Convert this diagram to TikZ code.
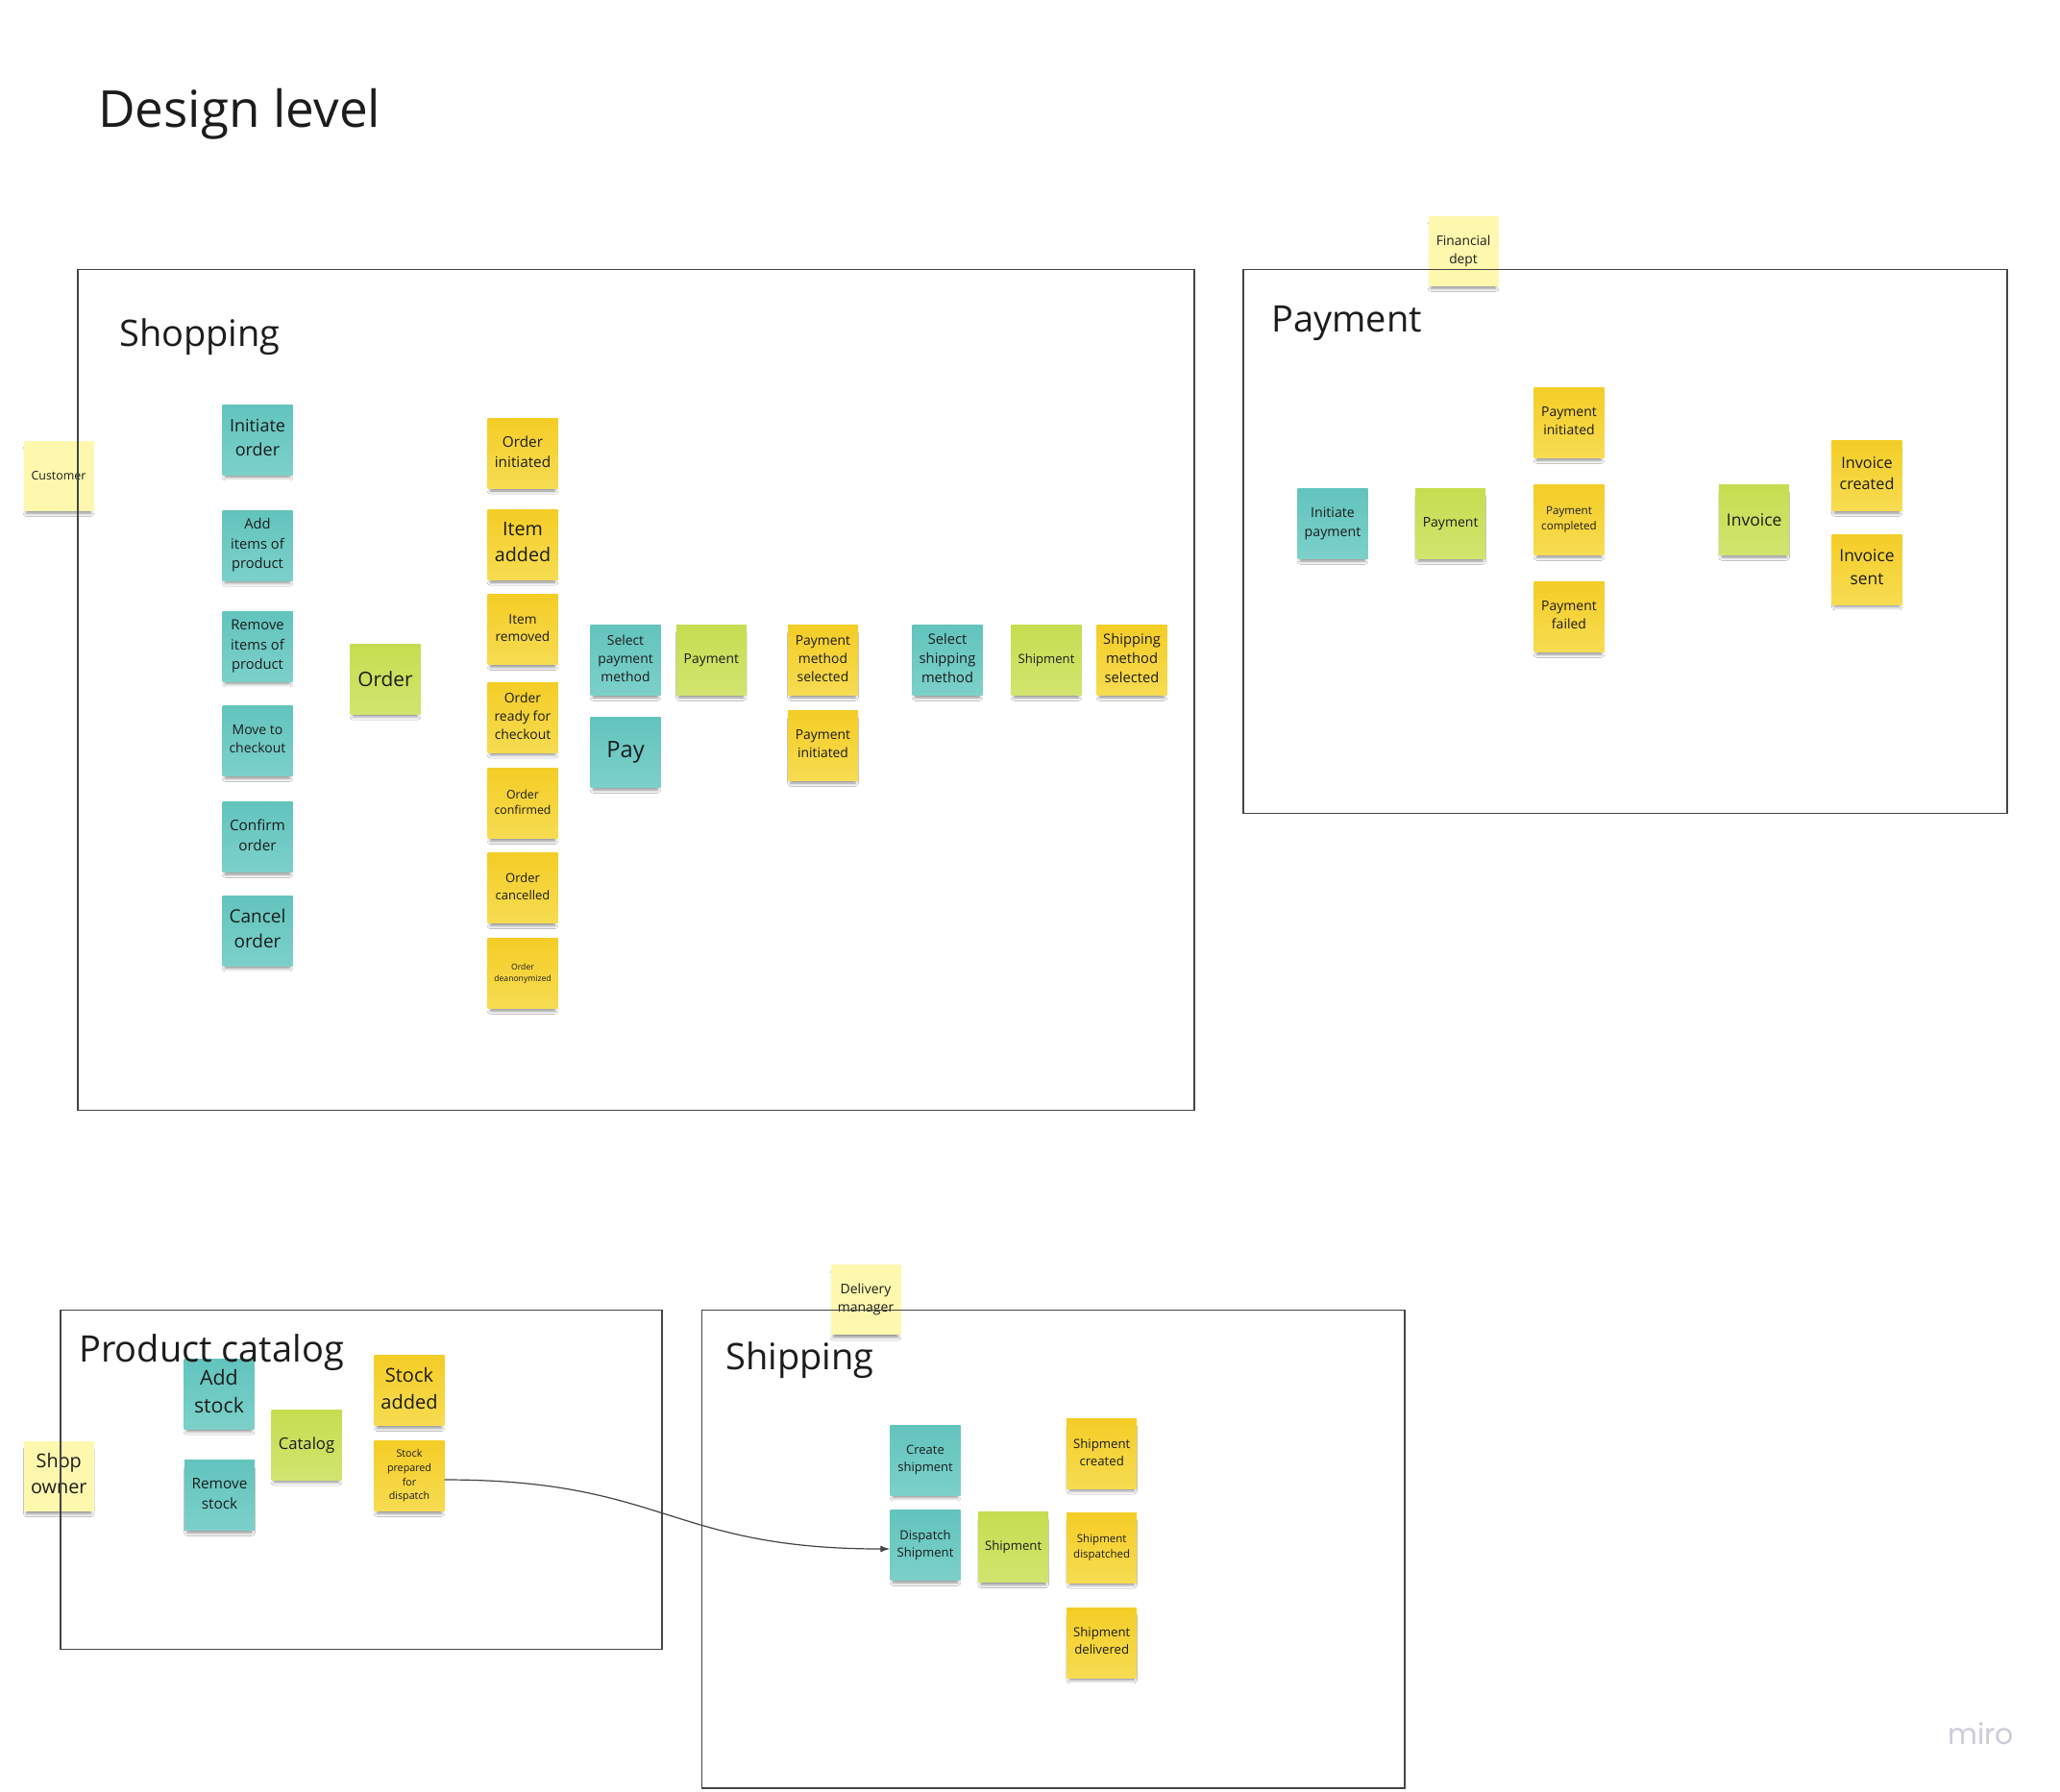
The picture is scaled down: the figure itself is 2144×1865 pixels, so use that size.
\documentclass[tikz,border=0pt]{standalone}
\usepackage{fontspec}
\setmainfont{Open Sans}
\newfontfamily\mirofont{Poppins}
\usetikzlibrary{arrows.meta,shadows.blur}
\definecolor{ink}{HTML}{1C1C1C}
\definecolor{framec}{HTML}{444444}
\definecolor{tealT}{HTML}{62C4BD}
\definecolor{tealB}{HTML}{7CD0CA}
\definecolor{yelT}{HTML}{F4CD26}
\definecolor{yelB}{HTML}{F7DC52}
\definecolor{grnT}{HTML}{C6DD50}
\definecolor{grnB}{HTML}{D2E46F}
\definecolor{paleY}{HTML}{FEF8AF}
\definecolor{miroC}{HTML}{CBCBDA}
\tikzset{
  note/.style={minimum width=73pt, minimum height=73pt, inner sep=0pt, align=center, text=ink,
    blur shadow={shadow xshift=0pt, shadow yshift=-6pt, shadow scale=0.92, shadow blur radius=3.5pt, shadow opacity=45}},
  cmd/.style={note, top color=tealT, bottom color=tealB},
  evt/.style={note, top color=yelT, bottom color=yelB},
  agg/.style={note, top color=grnT, bottom color=grnB},
  actor/.style={note, fill=paleY},
  ml/.style={execute at end node={\rule[-0.25em]{0pt}{0pt}}},
  fs/.style 2 args={font=\fontsize{#1}{#2}\selectfont},
  frame/.style={draw=framec, line width=1.6pt},
  title/.style={anchor=base west, inner sep=0pt, text=ink},
  arr/.style={draw=framec, line width=1.2pt, -{Latex[length=10pt,width=7pt]}}
}
\begin{document}
\begin{tikzpicture}[x=1pt,y=-1pt]
\useasboundingbox (0,0) rectangle (2144,1865);
\fill[white] (0,0) rectangle (2144,1865);

% ---------- Shopping ----------
\node[actor, fs={12.4}{17}] (customer) at (61,495) {Customer};
\node[cmd, ml, fs={18}{25}] (io) at (268,457.6) {Initiate\\order};
\node[cmd, ml, fs={14.7}{20.5}] (aip) at (268,567.7) {Add\\items of\\product};
\node[cmd, ml, fs={14.7}{20.5}] (rip) at (268,672.6) {Remove\\items of\\product};
\node[cmd, ml, fs={14}{19}] (mtc) at (268,771) {Move to\\checkout};
\node[cmd, ml, fs={15.3}{21}] (co) at (268,871) {Confirm\\order};
\node[cmd, ml, fs={19}{26}] (cao) at (268,968.6) {Cancel\\order};
\node[agg, fs={20.8}{28}] (order) at (401,706.8) {Order};

\node[evt, ml, fs={15.3}{21}] (oi) at (544,471.9) {Order\\initiated};
\node[evt, ml, fs={19.7}{27}] (ia) at (544,566.9) {Item\\added};
\node[evt, ml, fs={13.7}{18.6}] (ir) at (544,655.3) {Item\\removed};
\node[evt, ml, fs={13.9}{19}] (orc) at (544,746.8) {Order\\ready for\\checkout};
\node[evt, ml, fs={12.3}{16.7}] (oc) at (544,836.3) {Order\\confirmed};
\node[evt, ml, fs={13}{17.7}] (ocn) at (544,924.3) {Order\\cancelled};
\node[evt, fs={8.6}{11.7}] (od) at (544,1013) {Order\\deanonymized};

\node[cmd, ml, fs={13.9}{19}] (spm) at (651,687) {Select\\payment\\method};
\node[cmd, fs={23.7}{32}] (pay) at (651,783) {Pay};
\node[agg, fs={13.9}{19}] (pmt1) at (740.3,687) {Payment};
\node[evt, ml, fs={13.9}{19}] (pms) at (856.5,687) {Payment\\method\\selected};
\node[evt, ml, fs={13.9}{19}] (pi1) at (856.5,776) {Payment\\initiated};
\node[cmd, ml, fs={14.7}{20}] (ssm) at (986,687) {Select\\shipping\\method};
\node[agg, fs={13.1}{18}] (shp1) at (1089,687) {Shipment};
\node[evt, ml, fs={14.7}{20}] (sms) at (1178,687) {Shipping\\method\\selected};

% ---------- Payment ----------
\node[actor, ml, fs={13.8}{19}] (fin) at (1523,261) {Financial\\dept};
\node[cmd, fs={14.2}{19.5}] (ip) at (1387,545) {Initiate\\payment};
\node[agg, fs={14}{19}] (pmt2) at (1509.6,545) {Payment};
\node[evt, ml, fs={14}{19}] (pi2) at (1633,440) {Payment\\initiated};
\node[evt, fs={11.6}{15.8}] (pc) at (1633,541) {Payment\\completed};
\node[evt, ml, fs={14}{19}] (pf) at (1633,642) {Payment\\failed};
\node[agg, fs={17.5}{24}] (inv) at (1825.7,541) {Invoice};
\node[evt, ml, fs={16.2}{22}] (ic) at (1943,495) {Invoice\\created};
\node[evt, ml, fs={17.4}{23.5}] (is) at (1943,592.5) {Invoice\\sent};

% ---------- Product catalog ----------
\node[actor, ml, fs={19.8}{27}] (owner) at (61.3,1536.3) {Shop\\owner};
\node[cmd, ml, fs={21.3}{29}] (as) at (228,1450.8) {Add\\stock};
\node[cmd, ml, fs={15.4}{21}] (rs) at (228.5,1556) {Remove\\stock};
\node[agg, fs={16.7}{23}] (cat) at (319,1503.7) {Catalog};
\node[evt, ml, fs={20}{27.5}] (sa) at (426,1447.3) {Stock\\added};
\node[evt, fs={10.7}{14.6}] (spd) at (426,1536) {Stock\\prepared\\for\\dispatch};

% ---------- Shipping ----------
\node[actor, fs={14}{19}] (dm) at (901,1352.7) {Delivery\\manager};
\node[cmd, ml, fs={13}{17.8}] (cs) at (963,1519.5) {Create\\shipment};
\node[cmd, fs={13.1}{18}] (ds) at (963,1608) {Dispatch\\Shipment};
\node[agg, fs={13.2}{18}] (shp2) at (1054.6,1610.3) {Shipment};
\node[evt, ml, fs={13.2}{18}] (sc) at (1146.7,1512.7) {Shipment\\created};
\node[evt, fs={11.5}{15.7}] (sd) at (1146.7,1610.7) {Shipment\\dispatched};
\node[evt, ml, fs={13.2}{18}] (sdl) at (1146.7,1709.5) {Shipment\\delivered};

% ---------- Frames ----------
\draw[frame] (80.7,280.3) rectangle (1243,1155.4);
\draw[frame] (1293.7,280.3) rectangle (2089,846.4);
\draw[frame] (62.9,1363.3) rectangle (688.9,1716.4);
\draw[frame] (730.5,1363.3) rectangle (1462,1860.8);

% ---------- Titles ----------
\node[title, fs={53}{60}] (tdesign) at (102,132) {Design level};
\node[title, fs={38}{44}] (tshop) at (124,360) {Shopping};
\node[title, fs={38}{44}] (tpay) at (1323,345) {Payment};
\node[title, fs={38}{44}] (tcat) at (82,1417) {Product catalog};
\node[title, fs={38}{44}] (tship) at (755,1425) {Shipping};

% ---------- Connector ----------
\draw[arr] ([yshift=-4pt]spd.east) .. controls +(230,0) and +(-230,0) .. ([yshift=-4pt]ds.west);

% ---------- Logo ----------
\node[anchor=base west, inner sep=0pt, text=miroC, font=\mirofont\fontsize{30}{34}\selectfont] (miro) at (2027,1815) {miro};
\end{tikzpicture}
\end{document}
